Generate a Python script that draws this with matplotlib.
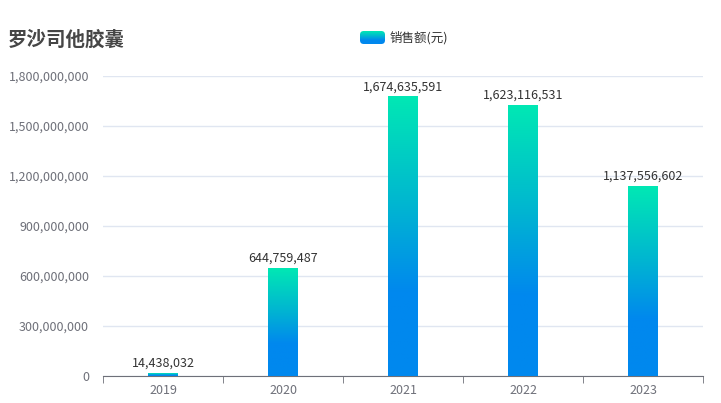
import matplotlib
matplotlib.use("Agg")
import matplotlib.pyplot as plt
import matplotlib.patches as patches
import numpy as np
from matplotlib.colors import LinearSegmentedColormap
from matplotlib.ticker import FuncFormatter

plt.rcParams['font.family'] = ['Noto Sans CJK SC', 'DejaVu Sans']

# data
years = ['2019', '2020', '2021', '2022', '2023']
sales = [14438032, 644759487, 1674635591, 1623116531, 1137556602]
title = '罗沙司他胶囊'
series_name = '销售额(元)'

# gradient: bottom blue -> top teal
grad_cmap = LinearSegmentedColormap.from_list(
    'bar_grad',
    [(0.0, '#0088ee'), (0.3, '#0088ee'), (0.6, '#00b4d2'), (1.0, '#00e8b4')])
grad = np.linspace(0, 1, 256).reshape(-1, 1)

W, H = 721, 403
fig = plt.figure(figsize=(W / 100, H / 100), dpi=100)
ax = fig.add_axes([103 / W, (H - 376) / H, 600 / W, 300 / H])

bar_w = 0.25
x = np.arange(len(years))
for xi, v in zip(x, sales):
    ax.imshow(grad, cmap=grad_cmap, origin='lower', aspect='auto',
              extent=[xi - bar_w / 2, xi + bar_w / 2, 0, v], zorder=3)
    ax.text(xi, v + 2.2e7, f'{v:,}', ha='center', va='bottom',
            fontsize=9, color='#333333', zorder=4)

ax.set_xlim(-0.5, len(years) - 0.5)
ax.set_ylim(0, 1.8e9)
ax.set_yticks(np.arange(0, 1.8e9 + 1, 3e8))
ax.yaxis.set_major_formatter(FuncFormatter(lambda v, p: f'{int(v):,}'))
ax.grid(axis='y', color='#e0e6f1', linewidth=1, zorder=0)
ax.set_axisbelow(True)

# category ticks at band boundaries, labels at centers
ax.set_xticks(x)
ax.set_xticklabels(years)
ax.set_xticks(np.arange(-0.5, len(years), 1), minor=True)
ax.tick_params(axis='x', which='major', length=0, pad=6, labelsize=9, labelcolor='#6e7079')
ax.tick_params(axis='x', which='minor', length=5, color='#6e7079', direction='out')
ax.tick_params(axis='y', length=0, pad=10, labelsize=9, labelcolor='#6e7079')

for s in ['top', 'right', 'left']:
    ax.spines[s].set_visible(False)
ax.spines['bottom'].set_color('#6e7079')

fig.text(8 / W, 1 - 40 / H, title, fontsize=14, fontweight='bold',
         color='#464646', va='center', ha='left')

# legend icon with rounded corners
lax = fig.add_axes([360 / W, 1 - 44 / H, 25 / W, 13 / H])
lax.set_xlim(0, 1)
lax.set_ylim(0, 1)
icon = lax.imshow(grad, cmap=grad_cmap, origin='lower', aspect='auto',
                  extent=[0, 1, 0, 1])
clip = patches.FancyBboxPatch((0.0, 0.0), 1, 1, boxstyle='round,pad=0,rounding_size=0.15',
                              transform=lax.transAxes, facecolor='none', edgecolor='none',
                              mutation_aspect=25 / 13)
lax.add_patch(clip)
icon.set_clip_path(clip)
lax.axis('off')
fig.text(390 / W, 1 - 37.5 / H, series_name, fontsize=9, color='#333333',
         va='center', ha='left')

fig.savefig('out.png', dpi=100)
